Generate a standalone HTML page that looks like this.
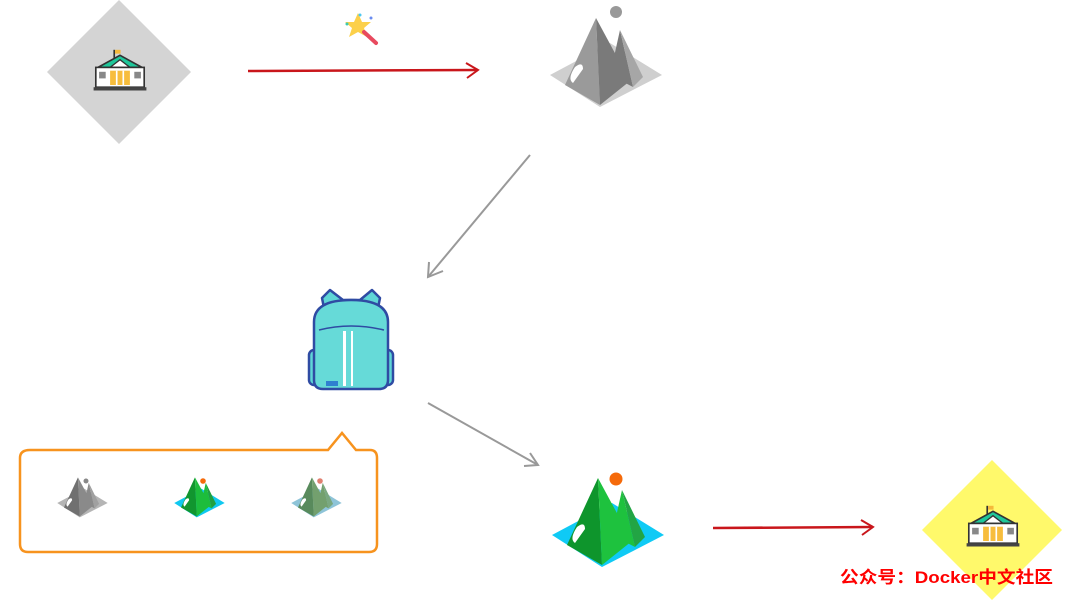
<!DOCTYPE html>
<html><head><meta charset="utf-8"><style>
html,body{margin:0;padding:0;background:#fff;}
svg{display:block}
</style></head><body>
<svg width="1073" height="603" viewBox="0 0 1073 603" xmlns="http://www.w3.org/2000/svg">
<defs>
<g id="bld">
  <rect x="-6" y="-22" width="1.5" height="8" fill="#333"/>
  <rect x="-4.5" y="-22" width="5" height="3.5" fill="#f5b93a"/>
  <polygon points="-20,-6 0,-17 20,-6" fill="#1fc79a" stroke="#333" stroke-width="1.5"/>
  <polygon points="-9,-6 0,-13 9,-6" fill="#fff" stroke="#333" stroke-width="1.2"/>
  <rect x="-22" y="-6" width="44" height="18" fill="#fff" stroke="#333" stroke-width="1.5"/>
  <rect x="-9" y="-3" width="18" height="13" fill="#f7bd3d"/>
  <line x1="-3" y1="-3" x2="-3" y2="10" stroke="#fff" stroke-width="1.5"/>
  <line x1="3" y1="-3" x2="3" y2="10" stroke="#fff" stroke-width="1.5"/>
  <rect x="-19" y="-2" width="6" height="6" fill="#888"/>
  <rect x="13" y="-2" width="6" height="6" fill="#888"/>
  <rect x="-24" y="12" width="48" height="3" fill="#444"/>
</g>
<g id="mtn">
  <polygon points="-55,0 5,-32 57,0 -5,32" fill="var(--b)"/>
  <polygon points="15,-45 5,0 28,12" fill="var(--m2)"/>
  <polygon points="15,-45 28,12 38,2" fill="var(--m3)"/>
  <polygon points="-9,-57 -40,10 -5,30" fill="var(--m1)"/>
  <polygon points="-9,-57 -5,30 25,6" fill="var(--m2)"/>
  <path d="M-30,-8 q8,-6 8,2 l-10,14 q-6,-4 2,-16z" fill="#fff"/>
</g>
</defs>

<polygon points="119,0 191,72 119,144 47,72" fill="#d4d4d4"/>
<use href="#bld" transform="translate(120,74) scale(1.1)"/>

<!-- wand -->
<polygon points="358,13 362,22 371,22 364,28 367,37 358,32 349,37 352,28 345,22 354,22" fill="#fcd04a"/>
<line x1="364" y1="32" x2="376" y2="43" stroke="#e84a5f" stroke-width="4" stroke-linecap="round"/>
<circle cx="347" cy="24" r="1.5" fill="#3ccbb0"/><circle cx="360" cy="15" r="1.5" fill="#4cc8f0"/><circle cx="371" cy="18" r="1.5" fill="#6a8cf0"/>

<path d="M248,71 L478,70" stroke="#c9161b" stroke-width="2.5" fill="none"/>
<path d="M466,63 L478,70 L467,78" stroke="#c9161b" stroke-width="2" fill="none"/>

<g style="--b:#cfcfcf;--m1:#9a9a9a;--m2:#7a7a7a;--m3:#a6a6a6" transform="translate(605,75)"><use href="#mtn"/></g>
<circle cx="616" cy="12" r="6" fill="#999"/>

<path d="M530,155 L428,277" stroke="#999" stroke-width="2" fill="none"/>
<path d="M429,262 L428,277 L443,271" stroke="#999" stroke-width="2" fill="none"/>

<g stroke="#2f4ba3" stroke-width="2.5" stroke-linejoin="round">
  <path d="M322,298 L330,290 L343,300 L360,300 L372,290 L380,298 L378,308 L324,308z" fill="#5fd6d6"/>
  <rect x="309" y="350" width="12" height="35" rx="5" fill="#5fd6d6"/>
  <rect x="381" y="350" width="12" height="35" rx="5" fill="#5fd6d6"/>
  <path d="M314,322 Q314,300 351,300 Q388,300 388,322 L388,380 Q388,389 379,389 L323,389 Q314,389 314,380z" fill="#66dad8"/>
</g>
<path d="M319,330 Q351,322 384,330" stroke="#2f4ba3" stroke-width="1.5" fill="none"/>
<rect x="343" y="331" width="3" height="55" fill="#fff"/>
<rect x="351" y="331" width="2" height="55" fill="#fff"/>
<rect x="326" y="381" width="12" height="5" fill="#2f7fd0"/>

<path d="M428,403 L538,465" stroke="#999" stroke-width="2" fill="none"/>
<path d="M524,466 L538,465 L530,453" stroke="#999" stroke-width="2" fill="none"/>

<path d="M30,450 L328,450 L342,433 L356,450 L370,450 Q377,450 377,458 L377,544 Q377,552 369,552 L28,552 Q20,552 20,544 L20,458 Q20,450 30,450z" fill="none" stroke="#f7931e" stroke-width="2.5"/>

<g transform="translate(82,503) scale(0.45)" style="--b:#b5b5b5;--m1:#707070;--m2:#8a8a8a;--m3:#a0a0a0"><use href="#mtn"/></g>
<circle cx="86" cy="481" r="2.5" fill="#888"/>
<g transform="translate(199,503) scale(0.45)" style="--b:#10c8f0;--m1:#11962f;--m2:#1dbd3c;--m3:#20a040"><use href="#mtn"/></g>
<circle cx="203" cy="481" r="2.8" fill="#f56a0a"/>
<g transform="translate(316,503) scale(0.45)" style="--b:#8ec4d8;--m1:#588a5c;--m2:#73a06e;--m3:#7aa880"><use href="#mtn"/></g>
<circle cx="320" cy="481" r="2.8" fill="#e08070"/>

<g transform="translate(607,535)" style="--b:#0fcaf5;--m1:#0e952c;--m2:#1ec23e;--m3:#22a544"><use href="#mtn"/></g>
<circle cx="616" cy="479" r="6.5" fill="#f56a0a"/>

<path d="M713,528 L873,527" stroke="#c9161b" stroke-width="2.5" fill="none"/>
<path d="M861,520 L873,527 L862,535" stroke="#c9161b" stroke-width="2" fill="none"/>

<polygon points="992,460 1062,530 992,600 922,530" fill="#fff96b"/>
<use href="#bld" transform="translate(993,530) scale(1.1)"/>

<text x="840" y="583" textLength="213" lengthAdjust="spacingAndGlyphs" font-family="Liberation Sans, Noto Sans CJK SC, sans-serif" font-size="17" font-weight="bold" fill="#ff0000">公众号：Docker中文社区</text>
</svg>
</body></html>
